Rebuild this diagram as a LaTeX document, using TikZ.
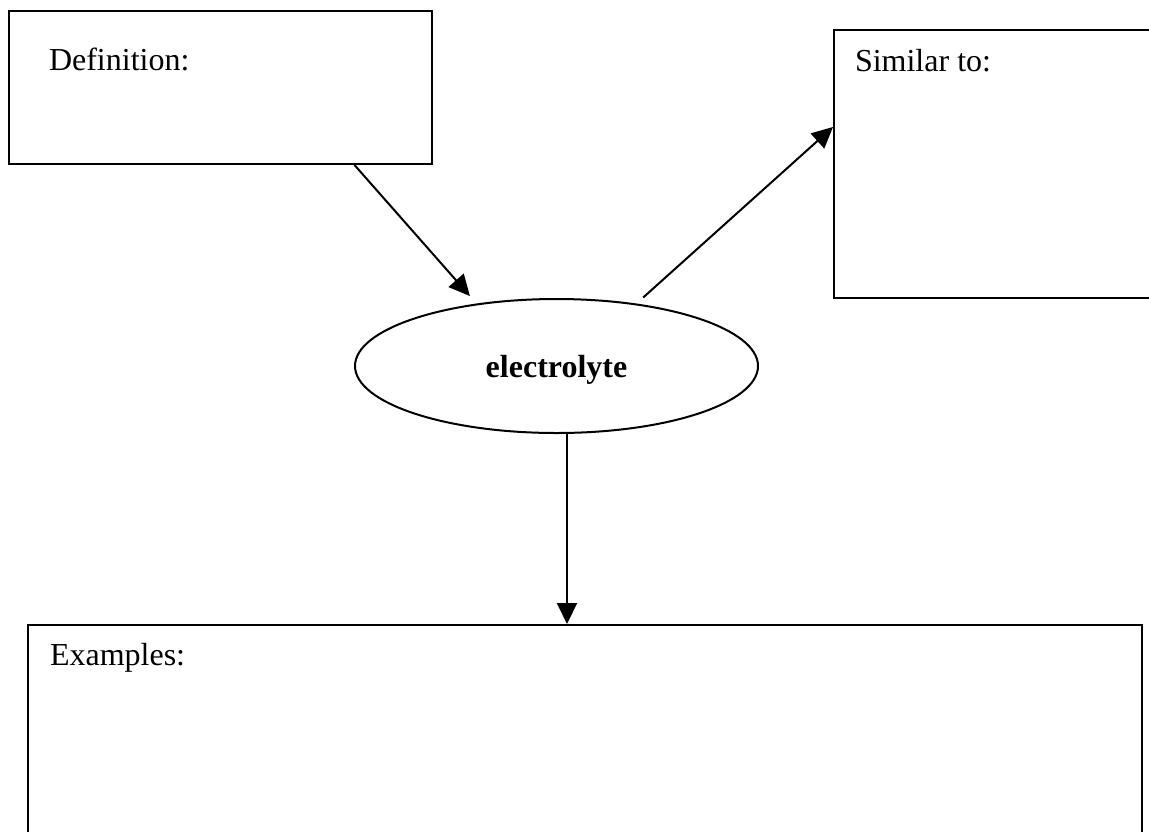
\documentclass[tikz,border=0pt]{standalone}
\usepackage{fontspec}
\setmainfont{Liberation Serif}
\usetikzlibrary{arrows.meta, shapes, positioning}

\begin{document}
\begin{tikzpicture}[x=0.5pt, y=-0.5pt, line width=1pt,
    box/.style={draw, rectangle, inner sep=0pt},
    word/.style={inner sep=0pt, anchor=base west, font=\fontsize{16}{19}\selectfont},
    arr/.style={-{Triangle[length=10.5pt, width=10pt]}}]
    \useasboundingbox (0,0) rectangle (1149,831);

    \node[box, minimum width=211.5pt, minimum height=76.5pt] (def) at (220.5, 87.5) {};
    \node[box, minimum width=163pt, minimum height=134pt] (sim) at (997, 164) {};
    \node[box, minimum width=557pt, minimum height=117.5pt] (ex) at (585, 742.5) {};
    \node[draw, ellipse, inner sep=0pt, minimum width=201.5pt, minimum height=67pt, text depth=0pt,
          font=\fontsize{16}{19}\selectfont\bfseries] (elec) at (556.5, 366) {electrolyte};

    \node[word] (deftext) at (48, 70) {Definition:};
    \node[word] (simtext) at (854, 71) {Similar to:};
    \node[word] (extext) at (49, 665) {Examples:};

    \draw[arr, shorten >=5pt] ([xshift=67pt]def.south) -- (elec.142);
    \draw[arr, shorten <=4.5pt] (elec.38) -- ([yshift=18.5pt]sim.west);
    \draw[arr] ([xshift=5.25pt]elec.south) -- ([xshift=5.25pt]elec.south |- ex.north);
\end{tikzpicture}
\end{document}
